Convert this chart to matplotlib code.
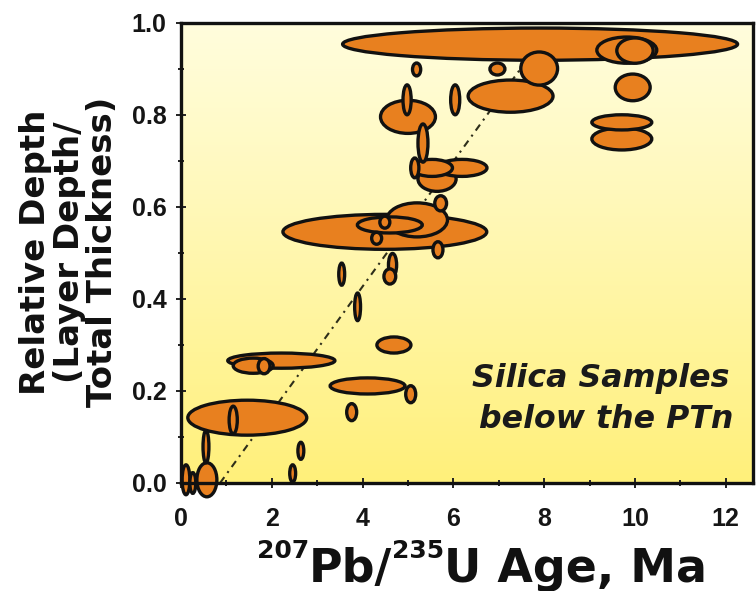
import numpy as np
import matplotlib
matplotlib.use('Agg')
import matplotlib.pyplot as plt
from matplotlib.patches import Ellipse

# ---- data: 207Pb/235U ages (Ma) and relative depth, with ellipse extents ----
age = [7.91, 4.49, 1.46, 2.21, 7.26, 5.20, 4.11, 5.00, 9.82, 9.71,
       7.89, 4.60, 9.71, 10.00, 9.95, 5.64, 6.19, 5.53, 1.59, 4.69,
       0.57, 5.33, 0.55, 4.98, 6.04, 1.15, 3.89, 3.54, 4.66, 4.60,
       5.72, 5.66, 4.49, 4.31, 5.15, 1.83, 5.06, 3.76, 6.97, 5.19,
       2.64, 2.46, 0.11, 0.26]
depth = [0.954, 0.546, 0.142, 0.266, 0.841, 0.572, 0.211, 0.796, 0.941, 0.748,
         0.901, 0.561, 0.784, 0.940, 0.860, 0.661, 0.685, 0.685, 0.255, 0.300,
         0.007, 0.739, 0.079, 0.833, 0.833, 0.137, 0.383, 0.454, 0.474, 0.449,
         0.608, 0.507, 0.567, 0.532, 0.685, 0.254, 0.193, 0.154, 0.900, 0.899,
         0.070, 0.021, 0.007, 0.000]
age_span = [8.70, 4.49, 2.62, 2.36, 1.87, 1.34, 1.65, 1.21, 1.32, 1.32,
            0.81, 1.43, 1.32, 0.80, 0.77, 0.84, 1.10, 0.90, 0.88, 0.75,
            0.44, 0.22, 0.13, 0.18, 0.20, 0.18, 0.13, 0.13, 0.18, 0.26,
            0.26, 0.22, 0.22, 0.22, 0.18, 0.26, 0.22, 0.22, 0.33, 0.18,
            0.13, 0.13, 0.17, 0.13]
depth_span = [0.070, 0.076, 0.076, 0.033, 0.070, 0.074, 0.035, 0.072, 0.057, 0.048,
              0.072, 0.035, 0.033, 0.055, 0.058, 0.054, 0.037, 0.037, 0.033, 0.035,
              0.074, 0.083, 0.070, 0.065, 0.065, 0.060, 0.060, 0.048, 0.050, 0.033,
              0.033, 0.035, 0.026, 0.026, 0.043, 0.033, 0.037, 0.037, 0.026, 0.028,
              0.037, 0.037, 0.065, 0.045]
trend_age = [0.86, 8.10]
trend_depth = [0.0, 0.985]
x_ticks = [0, 2, 4, 6, 8, 10, 12]
x_tick_labels = ['0', '2', '4', '6', '8', '10', '12']
y_ticks = [0.0, 0.2, 0.4, 0.6, 0.8, 1.0]
y_tick_labels = ['0.0', '0.2', '0.4', '0.6', '0.8', '1.0']

plt.rcParams['font.family'] = ['Liberation Sans', 'DejaVu Sans']

fig = plt.figure(figsize=(7.56, 5.91), dpi=100)
W, H = 756.0, 591.0
ax = fig.add_axes([181 / W, 1 - 483 / H, (753 - 181) / W, (483 - 23) / H])

# background gradient
ny = 200
tcol = np.array([255, 253, 220]) / 255.0
bcol = np.array([255, 240, 122]) / 255.0
f = np.linspace(0, 1, ny)[:, None, None] ** 1.1
grad = tcol[None, None, :] * (1 - f) + bcol[None, None, :] * f
grad = np.repeat(grad, 2, axis=1)
ax.imshow(grad, extent=[0, 1, 0, 1], transform=ax.transAxes, aspect='auto',
          zorder=0, interpolation='bilinear')

# trend line
ax.plot(trend_age, trend_depth, color='#2e2e1a', lw=1.5,
        linestyle=(0, (3.5, 2.5, 1, 2.5)), zorder=1)

# ellipses
for x, y, w, h in zip(age, depth, age_span, depth_span):
    e = Ellipse((x, y), w, h, facecolor='#E8801F', edgecolor='#111111',
                lw=2.4, zorder=2, clip_on=False)
    ax.add_patch(e)

ax.set_xlim(0, 12.6)
ax.set_ylim(0, 1.0)
ax.set_xticks(x_ticks)
ax.set_xticklabels(x_tick_labels)
ax.set_xticks(np.arange(1, 12, 2), minor=True)
ax.set_yticks(y_ticks)
ax.set_yticklabels(y_tick_labels)
ax.set_yticks(np.arange(0.1, 1.0, 0.2), minor=True)
for s in ax.spines.values():
    s.set_linewidth(2.4)
    s.set_color('#111111')
    s.set_zorder(5)
ax.tick_params(axis='both', which='both', direction='inout', width=1.4, color='#222222')
ax.tick_params(axis='both', which='major', length=7)
ax.tick_params(axis='both', which='minor', length=5)
ax.tick_params(axis='x', which='major', pad=14, labelsize=18)
ax.tick_params(axis='y', which='major', pad=7, labelsize=18)
for lab in ax.get_xticklabels() + ax.get_yticklabels():
    lab.set_fontweight('bold')
    lab.set_color('#151515')

# y label
fig.text(69 / W, 1 - 252 / H, 'Relative Depth\n(Layer Depth/\nTotal Thickness)',
         rotation=90, ha='center', va='center', multialignment='center',
         fontsize=24.5, fontweight='bold', family='DejaVu Sans', linespacing=1.0,
         color='#111111')

# annotation
fig.text(729 / W, 1 - 387 / H, 'Silica Samples', ha='right', va='baseline',
         fontsize=22.8, fontweight='bold', style='italic', family='DejaVu Sans',
         color='#1a1a1a')
fig.text(733 / W, 1 - 428 / H, 'below the PTn', ha='right', va='baseline',
         fontsize=22.8, fontweight='bold', style='italic', family='DejaVu Sans',
         color='#1a1a1a')

# x label composed of pieces with superscripts
r = fig.canvas.get_renderer()
pieces = [('207', 18, True), ('Pb/', 33, False), ('235', 18, True), ('U Age, Ma', 33, False)]
objs = []
for s, fs, sup in pieces:
    t = fig.text(0, 0, s, fontsize=fs, fontweight='bold', family='DejaVu Sans',
                 va='baseline', ha='left', color='#111111')
    objs.append((t, sup))
ws = [t.get_window_extent(r).width for t, _ in objs]
x0 = 482 - sum(ws) / 2
base = H - 582
for (t, sup), w in zip(objs, ws):
    t.set_position((x0 / W, (base + (24 if sup else 0)) / H))
    x0 += w

fig.savefig('out.png', dpi=100)
